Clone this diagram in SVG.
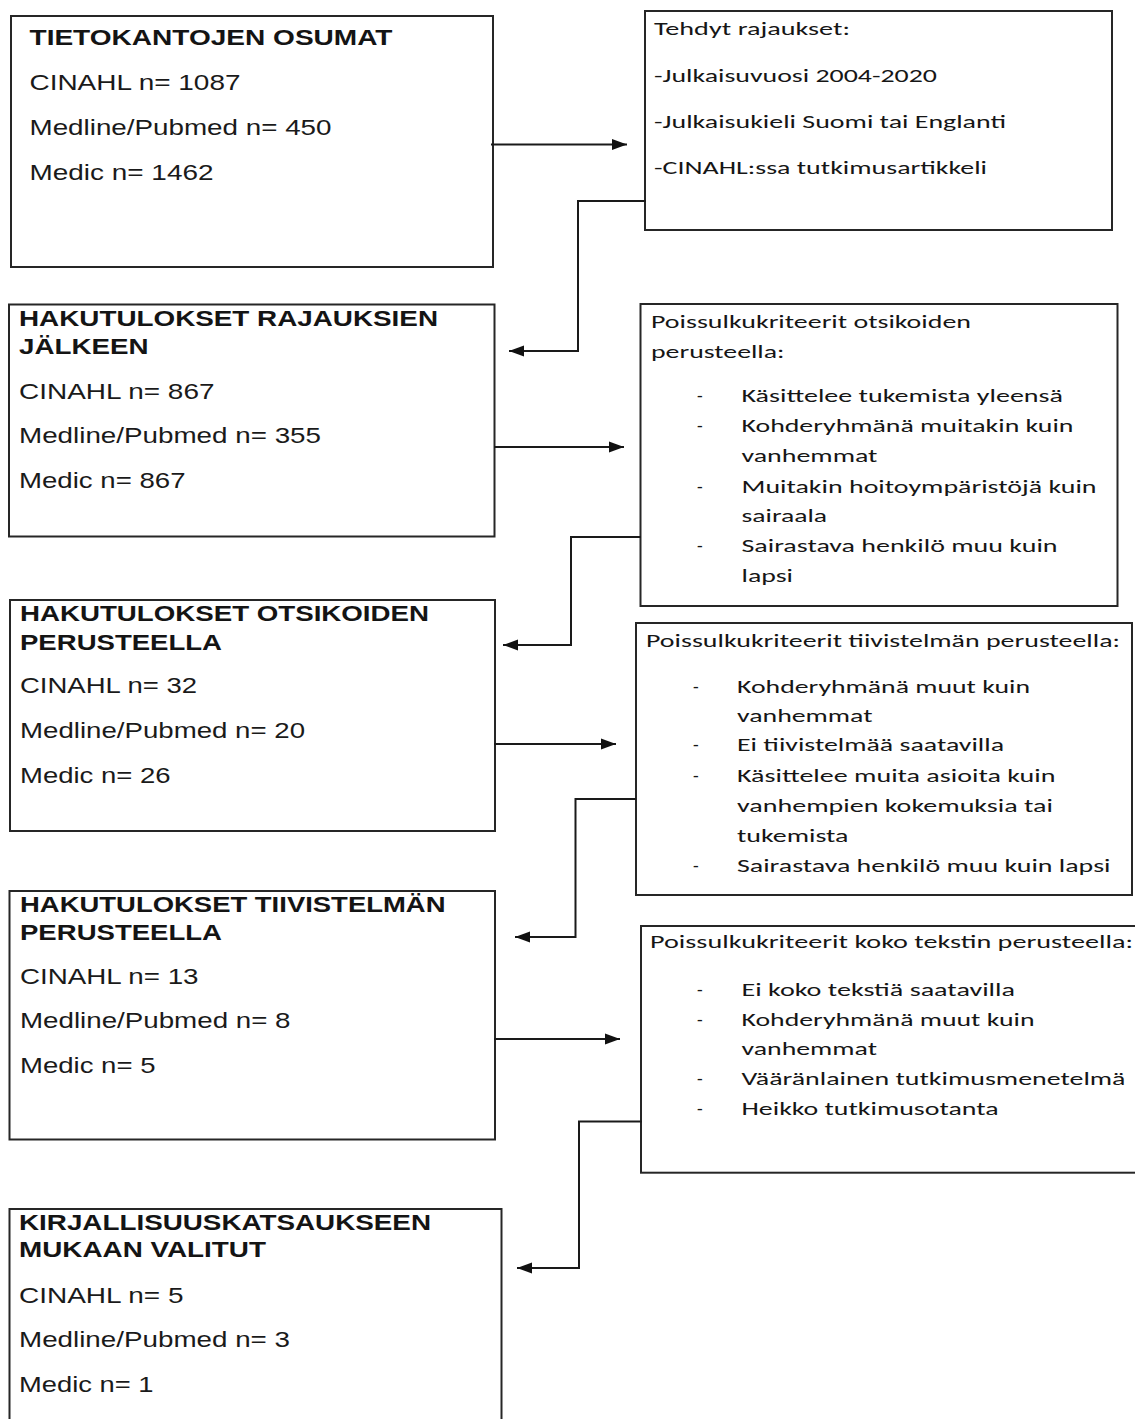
<svg xmlns="http://www.w3.org/2000/svg" width="1135" height="1419" viewBox="0 0 1135 1419">
<style>
.bg{fill:#fff}
.box{fill:#fff;stroke:#262626;stroke-width:2}
.conn{fill:none;stroke:#1a1a1a;stroke-width:2;marker-end:url(#arr)}
.h{font-family:"Liberation Sans",Arial,sans-serif;font-weight:bold;font-size:22.5px;fill:#141414}
.t{font-family:"Liberation Sans",Arial,sans-serif;font-size:22.5px;fill:#1a1a1a}
.c{font-family:Carlito,Lato,"Open Sans",sans-serif;font-size:18.5px;fill:#161616}
</style>
<defs>
<marker id="arr" markerUnits="userSpaceOnUse" markerWidth="15" markerHeight="12" refX="15" refY="6" orient="auto">
<path d="M0,0.5 L15,6 L0,11.5 z" fill="#111"/>
</marker>
</defs>
<rect class="bg" x="0" y="0" width="1135" height="1419"/>

<g id="box1">
<rect class="box" x="11" y="16" width="482" height="251"/>
<text class="h" x="29.5" y="45" textLength="363" lengthAdjust="spacingAndGlyphs">TIETOKANTOJEN OSUMAT</text>
<text class="t" x="29.5" y="90" textLength="211" lengthAdjust="spacingAndGlyphs">CINAHL n= 1087</text>
<text class="t" x="29.5" y="135" textLength="302" lengthAdjust="spacingAndGlyphs">Medline/Pubmed n= 450</text>
<text class="t" x="29.5" y="180" textLength="184" lengthAdjust="spacingAndGlyphs">Medic n= 1462</text>
</g>

<g id="rajaukset">
<rect class="box" x="645" y="11" width="467" height="219"/>
<text class="c" x="654" y="35" textLength="196" lengthAdjust="spacingAndGlyphs">Tehdyt rajaukset:</text>
<text class="c" x="654" y="81.5" textLength="283" lengthAdjust="spacingAndGlyphs">-Julkaisuvuosi 2004-2020</text>
<text class="c" x="654" y="128" textLength="352" lengthAdjust="spacingAndGlyphs">-Julkaisukieli Suomi tai Englanti</text>
<text class="c" x="654" y="174" textLength="333" lengthAdjust="spacingAndGlyphs">-CINAHL:ssa tutkimusartikkeli</text>
</g>

<g id="box2">
<rect class="box" x="9" y="304.5" width="485.5" height="232"/>
<text class="h" x="19" y="326" textLength="419" lengthAdjust="spacingAndGlyphs">HAKUTULOKSET RAJAUKSIEN</text>
<text class="h" x="19" y="354" textLength="129.5" lengthAdjust="spacingAndGlyphs">JÄLKEEN</text>
<text class="t" x="19" y="398.5" textLength="195.5" lengthAdjust="spacingAndGlyphs">CINAHL n= 867</text>
<text class="t" x="19" y="443" textLength="302" lengthAdjust="spacingAndGlyphs">Medline/Pubmed n= 355</text>
<text class="t" x="19" y="488" textLength="166.5" lengthAdjust="spacingAndGlyphs">Medic n= 867</text>
</g>

<g id="otsikot">
<rect class="box" x="640.5" y="304" width="477" height="302"/>
<text class="c" x="651" y="327.5" textLength="320" lengthAdjust="spacingAndGlyphs">Poissulkukriteerit otsikoiden</text>
<text class="c" x="651" y="357.5" textLength="133.5" lengthAdjust="spacingAndGlyphs">perusteella:</text>
<text class="c" x="697" y="402.3">-</text>
<text class="c" x="741.5" y="402.3" textLength="321.5" lengthAdjust="spacingAndGlyphs">Käsittelee tukemista yleensä</text>
<text class="c" x="697" y="432.3">-</text>
<text class="c" x="741.5" y="432.3" textLength="332" lengthAdjust="spacingAndGlyphs">Kohderyhmänä muitakin kuin</text>
<text class="c" x="741.5" y="461.7" textLength="136" lengthAdjust="spacingAndGlyphs">vanhemmat</text>
<text class="c" x="697" y="492.7">-</text>
<text class="c" x="741.5" y="492.7" textLength="355" lengthAdjust="spacingAndGlyphs">Muitakin hoitoympäristöjä kuin</text>
<text class="c" x="741.5" y="521.7" textLength="85.5" lengthAdjust="spacingAndGlyphs">sairaala</text>
<text class="c" x="697" y="552.3">-</text>
<text class="c" x="741.5" y="552.3" textLength="316" lengthAdjust="spacingAndGlyphs">Sairastava henkilö muu kuin</text>
<text class="c" x="741.5" y="581.7" textLength="51.5" lengthAdjust="spacingAndGlyphs">lapsi</text>
</g>

<g id="box3">
<rect class="box" x="10" y="600" width="485" height="231"/>
<text class="h" x="20" y="620.7" textLength="409" lengthAdjust="spacingAndGlyphs">HAKUTULOKSET OTSIKOIDEN</text>
<text class="h" x="20" y="650" textLength="202" lengthAdjust="spacingAndGlyphs">PERUSTEELLA</text>
<text class="t" x="20" y="693.3" textLength="177" lengthAdjust="spacingAndGlyphs">CINAHL n= 32</text>
<text class="t" x="20" y="738.3" textLength="285" lengthAdjust="spacingAndGlyphs">Medline/Pubmed n= 20</text>
<text class="t" x="20" y="782.7" textLength="150.5" lengthAdjust="spacingAndGlyphs">Medic n= 26</text>
</g>

<g id="tiivistelma">
<rect class="box" x="636" y="623" width="496" height="272"/>
<text class="c" x="646" y="646.7" textLength="474" lengthAdjust="spacingAndGlyphs">Poissulkukriteerit tiivistelmän perusteella:</text>
<text class="c" x="693" y="692.7">-</text>
<text class="c" x="737" y="692.7" textLength="293" lengthAdjust="spacingAndGlyphs">Kohderyhmänä muut kuin</text>
<text class="c" x="737" y="721.7" textLength="135.5" lengthAdjust="spacingAndGlyphs">vanhemmat</text>
<text class="c" x="693" y="751">-</text>
<text class="c" x="737" y="751" textLength="267" lengthAdjust="spacingAndGlyphs">Ei tiivistelmää saatavilla</text>
<text class="c" x="693" y="781.7">-</text>
<text class="c" x="737" y="781.7" textLength="318.5" lengthAdjust="spacingAndGlyphs">Käsittelee muita asioita kuin</text>
<text class="c" x="737" y="811.7" textLength="316" lengthAdjust="spacingAndGlyphs">vanhempien kokemuksia tai</text>
<text class="c" x="737" y="841.7" textLength="111.5" lengthAdjust="spacingAndGlyphs">tukemista</text>
<text class="c" x="693" y="871.7">-</text>
<text class="c" x="737" y="871.7" textLength="373.5" lengthAdjust="spacingAndGlyphs">Sairastava henkilö muu kuin lapsi</text>
</g>

<g id="box4">
<rect class="box" x="9.5" y="891" width="485.5" height="248.5"/>
<text class="h" x="20" y="912.3" textLength="425.5" lengthAdjust="spacingAndGlyphs">HAKUTULOKSET TIIVISTELMÄN</text>
<text class="h" x="20" y="940" textLength="202" lengthAdjust="spacingAndGlyphs">PERUSTEELLA</text>
<text class="t" x="20" y="984" textLength="178.5" lengthAdjust="spacingAndGlyphs">CINAHL n= 13</text>
<text class="t" x="20" y="1028.3" textLength="270.5" lengthAdjust="spacingAndGlyphs">Medline/Pubmed n= 8</text>
<text class="t" x="20" y="1072.7" textLength="135.5" lengthAdjust="spacingAndGlyphs">Medic n= 5</text>
</g>

<g id="kokoteksti">
<rect class="box" x="641" y="926" width="510" height="246.7"/>
<text class="c" x="650" y="948.3" textLength="483" lengthAdjust="spacingAndGlyphs">Poissulkukriteerit koko tekstin perusteella:</text>
<text class="c" x="697" y="996">-</text>
<text class="c" x="741.5" y="996" textLength="273.5" lengthAdjust="spacingAndGlyphs">Ei koko tekstiä saatavilla</text>
<text class="c" x="697" y="1026">-</text>
<text class="c" x="741.5" y="1026" textLength="293" lengthAdjust="spacingAndGlyphs">Kohderyhmänä muut kuin</text>
<text class="c" x="741.5" y="1055" textLength="135.5" lengthAdjust="spacingAndGlyphs">vanhemmat</text>
<text class="c" x="697" y="1085">-</text>
<text class="c" x="741.5" y="1085" textLength="384" lengthAdjust="spacingAndGlyphs">Vääränlainen tutkimusmenetelmä</text>
<text class="c" x="697" y="1115">-</text>
<text class="c" x="741.5" y="1115" textLength="257" lengthAdjust="spacingAndGlyphs">Heikko tutkimusotanta</text>
</g>

<g id="box5">
<rect class="box" x="9.5" y="1209" width="492" height="300"/>
<text class="h" x="19" y="1230" textLength="412" lengthAdjust="spacingAndGlyphs">KIRJALLISUUSKATSAUKSEEN</text>
<text class="h" x="19" y="1257.3" textLength="247" lengthAdjust="spacingAndGlyphs">MUKAAN VALITUT</text>
<text class="t" x="19" y="1303.3" textLength="164.5" lengthAdjust="spacingAndGlyphs">CINAHL n= 5</text>
<text class="t" x="19" y="1347.3" textLength="271" lengthAdjust="spacingAndGlyphs">Medline/Pubmed n= 3</text>
<text class="t" x="19" y="1391.7" textLength="134.5" lengthAdjust="spacingAndGlyphs">Medic n= 1</text>
</g>

<g id="connectors">
<path class="conn" d="M491,144.5 H627"/>
<path class="conn" d="M646,201 H578 V351 H509"/>
<path class="conn" d="M494,447 H624"/>
<path class="conn" d="M641,537 H571 V645 H503"/>
<path class="conn" d="M494,744 H616"/>
<path class="conn" d="M636,799 H575.5 V937 H515"/>
<path class="conn" d="M494,1039 H620"/>
<path class="conn" d="M642,1121.5 H579 V1268 H517"/>
</g>
</svg>
